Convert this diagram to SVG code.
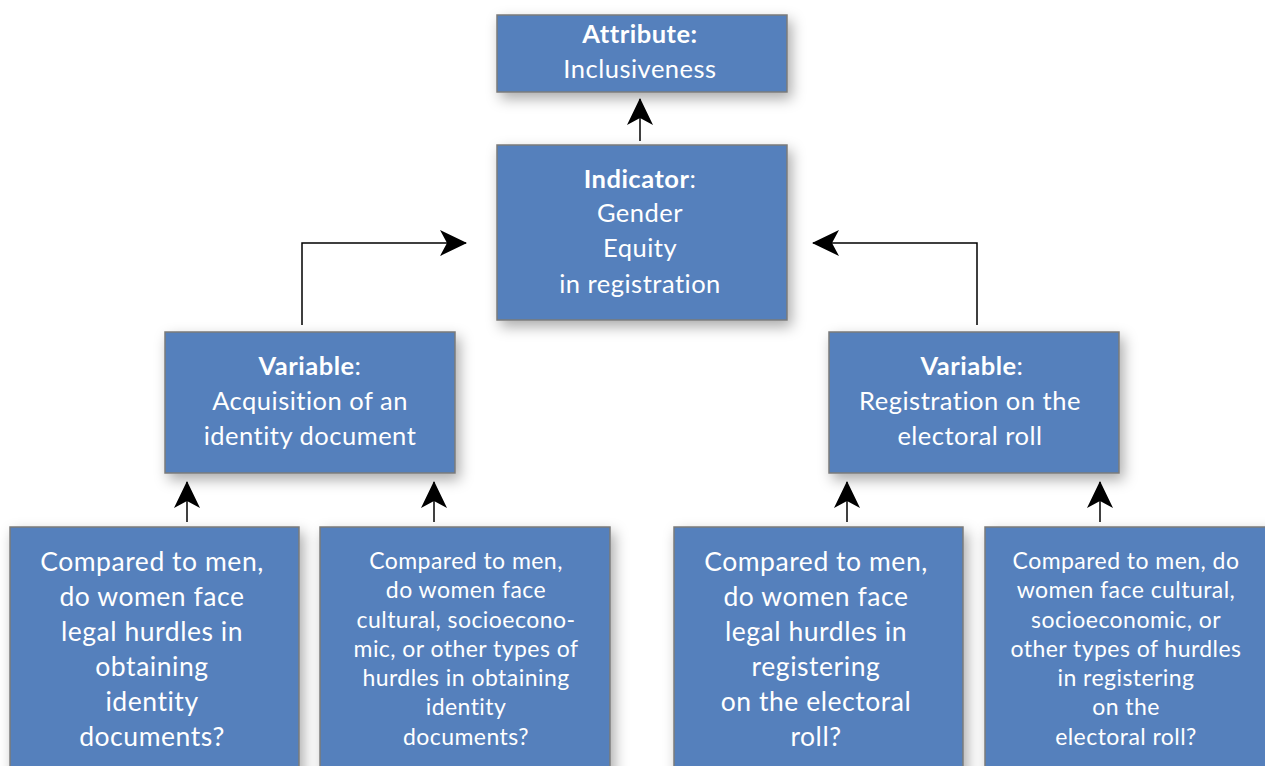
<svg xmlns="http://www.w3.org/2000/svg" width="1265" height="766" viewBox="0 0 1265 766">
<defs>
<filter id="sh" x="-20%" y="-20%" width="140%" height="150%">
<feDropShadow dx="4" dy="6" stdDeviation="7" flood-color="#000" flood-opacity="0.33"/>
</filter>
<marker id="ah" viewBox="0 0 28 26" markerWidth="28" markerHeight="26" refX="26" refY="13" orient="auto" markerUnits="userSpaceOnUse">
<path d="M0,0 L27,13 L0,26 L7,13 Z" fill="#000"/>
</marker>
</defs>
<style>
.box{fill:#5480BC;stroke:#7a7a7a;stroke-width:1.5;filter:url(#sh)}
text{font-family:Lato,"Open Sans","Liberation Sans",sans-serif;fill:#fff;text-anchor:middle}
.t24{font-size:25.5px;letter-spacing:0.5px}
.t26{font-size:26.5px;letter-spacing:0.55px}
.t22{font-size:23px;letter-spacing:0.45px}
.b{font-weight:bold}
.c{fill:none;stroke:#000;stroke-width:1.5}
</style>
<rect width="1265" height="766" fill="#fff"/>
<g id="connectors">
<line class="c" x1="640" y1="141" x2="640" y2="99" marker-end="url(#ah)"/>
<polyline class="c" points="302,325 302,243 466,243" marker-end="url(#ah)"/>
<polyline class="c" points="977,325 977,243 813,243" marker-end="url(#ah)"/>
<line class="c" x1="187" y1="522" x2="187" y2="482" marker-end="url(#ah)"/>
<line class="c" x1="434" y1="522" x2="434" y2="482" marker-end="url(#ah)"/>
<line class="c" x1="847" y1="522" x2="847" y2="482" marker-end="url(#ah)"/>
<line class="c" x1="1100" y1="522" x2="1100" y2="482" marker-end="url(#ah)"/>
</g>
<g id="attribute">
<rect class="box" x="497" y="15" width="290" height="77"/>
<text class="t24" x="640" y="43"><tspan class="b">Attribute:</tspan></text>
<text class="t24" x="640" y="78">Inclusiveness</text>
</g>
<g id="indicator">
<rect class="box" x="497" y="145" width="290" height="175"/>
<text class="t24" x="640" y="188"><tspan class="b">Indicator</tspan>:</text>
<text class="t24" x="640" y="222">Gender</text>
<text class="t24" x="640" y="257">Equity</text>
<text class="t24" x="640" y="293">in registration</text>
</g>
<g id="variable-left">
<rect class="box" x="165" y="332" width="290" height="141"/>
<text class="t24" x="310" y="375"><tspan class="b">Variable</tspan>:</text>
<text class="t24" x="310" y="410">Acquisition of an</text>
<text class="t24" x="310" y="445">identity document</text>
</g>
<g id="variable-right">
<rect class="box" x="829" y="332" width="290" height="141"/>
<text class="t24" x="972" y="375"><tspan class="b">Variable</tspan>:</text>
<text class="t24" x="970" y="410">Registration on the</text>
<text class="t24" x="970" y="445">electoral roll</text>
</g>
<g id="q1">
<rect class="box" x="10" y="527" width="289" height="250"/>
<text class="t26" x="152" y="571">Compared to men,</text>
<text class="t26" x="152" y="606">do women face</text>
<text class="t26" x="152" y="641">legal hurdles in</text>
<text class="t26" x="152" y="676">obtaining</text>
<text class="t26" x="152" y="711">identity</text>
<text class="t26" x="152" y="746">documents?</text>
</g>
<g id="q2">
<rect class="box" x="320" y="527" width="290" height="250"/>
<text class="t22" x="466" y="569">Compared to men,</text>
<text class="t22" x="466" y="598">do women face</text>
<text class="t22" x="466" y="628">cultural, socioecono-</text>
<text class="t22" x="466" y="657">mic, or other types of</text>
<text class="t22" x="466" y="686">hurdles in obtaining</text>
<text class="t22" x="466" y="715">identity</text>
<text class="t22" x="466" y="745">documents?</text>
</g>
<g id="q3">
<rect class="box" x="674" y="527" width="289" height="250"/>
<text class="t26" x="816" y="571">Compared to men,</text>
<text class="t26" x="816" y="606">do women face</text>
<text class="t26" x="816" y="641">legal hurdles in</text>
<text class="t26" x="816" y="676">registering</text>
<text class="t26" x="816" y="711">on the electoral</text>
<text class="t26" x="816" y="746">roll?</text>
</g>
<g id="q4">
<rect class="box" x="985" y="527" width="290" height="250"/>
<text class="t22" x="1126" y="569">Compared to men, do</text>
<text class="t22" x="1126" y="598">women face cultural,</text>
<text class="t22" x="1126" y="628">socioeconomic, or</text>
<text class="t22" x="1126" y="657">other types of hurdles</text>
<text class="t22" x="1126" y="686">in registering</text>
<text class="t22" x="1126" y="715">on the</text>
<text class="t22" x="1126" y="745">electoral roll?</text>
</g>
</svg>
